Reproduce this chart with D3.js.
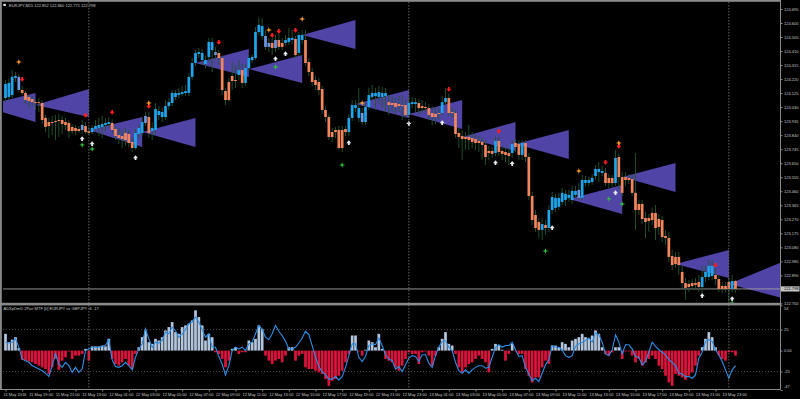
<!DOCTYPE html>
<html><head><meta charset="utf-8">
<script src="https://cdn.jsdelivr.net/npm/d3@7"></script>
<style>
html,body{margin:0;padding:0;background:#000;}
svg{display:block;}
text{font-family:"Liberation Sans",Arial,sans-serif;}
</style></head><body>
<svg id="chart" width="800" height="399"></svg>
<script>
// ---------------- DATA ----------------
const symbolTitle = "EURJPY,M15  122.852 122.860 122.771 122.798";
const indicatorTitle = "ADXpDmD 2Pair MTF [0]  EURJPY vs GBPJPY   -6 -17";

const open = [124.092,124.099,124.112,124.228,124.235,124.146,124.126,124.099,124.085,124.064,
124.064,124.058,123.957,123.929,123.929,123.936,123.943,123.943,123.929,123.923,
123.896,123.889,123.882,123.875,123.902,123.868,123.861,123.882,123.889,123.896,
123.909,123.916,123.923,123.882,123.841,123.834,123.855,123.848,123.794,123.753,
123.848,123.855,123.923,123.963,123.868,123.875,123.977,123.963,123.963,124.037,
124.058,124.099,124.112,124.119,124.126,124.126,124.235,124.329,124.390,124.349,
124.322,124.370,124.417,124.383,124.397,124.363,124.139,124.200,124.241,124.214,
124.248,124.282,124.194,124.295,124.349,124.363,124.539,124.512,124.512,124.465,
124.465,124.431,124.485,124.465,124.465,124.471,124.485,124.492,124.397,124.485,
124.485,124.336,124.268,124.214,124.200,124.153,124.011,123.963,123.861,123.875,
123.875,123.875,123.882,123.861,123.957,124.024,123.957,123.990,123.929,124.031,
124.099,124.105,124.099,124.099,124.105,124.064,124.058,124.058,124.051,124.044,
124.044,123.977,124.051,124.051,124.058,124.037,124.031,124.024,123.990,123.984,
123.990,123.990,124.064,124.092,123.997,123.990,123.855,123.834,123.828,123.828,
123.821,123.814,123.801,123.794,123.774,123.733,123.733,123.719,123.801,123.733,
123.726,123.719,123.719,123.787,123.780,123.706,123.787,123.692,123.428,123.299,
123.252,123.198,123.231,123.211,123.333,123.347,123.354,123.388,123.401,123.415,
123.401,123.435,123.469,123.415,123.516,123.516,123.523,123.563,123.590,123.584,
123.584,123.550,123.550,123.516,123.692,123.556,123.556,123.550,123.543,123.449,
123.374,123.374,123.279,123.279,123.313,123.313,123.272,123.265,123.157,123.143,
123.021,123.015,123.015,122.913,122.838,122.832,122.838,122.838,122.845,122.811,
122.879,122.879,122.886,122.893,122.865,122.818,122.818,122.845,122.798,122.852];

const close = [124.187,124.194,124.235,124.241,124.146,124.126,124.078,124.071,124.064,124.058,
124.058,123.943,123.896,123.902,123.923,123.929,123.936,123.916,123.909,123.868,
123.868,123.868,123.868,123.909,123.861,123.855,123.889,123.902,123.909,123.916,
123.923,123.929,123.875,123.834,123.821,123.814,123.807,123.787,123.753,123.855,
123.889,123.929,123.970,123.855,123.889,124.017,124.004,123.997,124.037,124.064,
124.126,124.126,124.126,124.132,124.139,124.235,124.329,124.397,124.403,124.397,
124.349,124.471,124.471,124.403,124.363,124.146,124.078,124.078,124.207,124.207,
124.282,124.194,124.295,124.363,124.370,124.539,124.587,124.580,124.438,124.438,
124.431,124.485,124.438,124.438,124.485,124.499,124.499,124.383,124.519,124.519,
124.329,124.268,124.200,124.180,124.146,124.011,123.963,123.828,123.828,123.861,
123.753,123.753,123.861,123.957,124.044,124.044,124.024,123.929,124.031,124.112,
124.126,124.126,124.132,124.126,124.126,124.044,124.044,124.031,124.037,124.037,
123.977,124.058,124.064,124.064,124.024,124.024,124.024,123.977,123.963,123.963,
123.984,124.064,124.092,123.990,123.990,123.848,123.828,123.814,123.814,123.807,
123.794,123.787,123.787,123.774,123.692,123.719,123.713,123.801,123.726,123.713,
123.706,123.699,123.780,123.760,123.706,123.787,123.692,123.428,123.265,123.211,
123.198,123.238,123.211,123.333,123.421,123.415,123.415,123.449,123.442,123.435,
123.462,123.462,123.415,123.536,123.536,123.536,123.550,123.611,123.611,123.597,
123.516,123.516,123.516,123.686,123.556,123.449,123.536,123.536,123.449,123.333,
123.333,123.272,123.252,123.258,123.265,123.211,123.218,123.150,123.143,123.015,
122.960,122.967,122.960,122.838,122.805,122.811,122.818,122.825,122.811,122.879,
122.913,122.954,122.954,122.865,122.798,122.798,122.798,122.798,122.852,122.798];

const high = [124.214,124.221,124.282,124.268,124.255,124.173,124.139,124.112,124.105,124.085,
124.092,124.078,123.977,123.957,123.970,123.977,123.984,123.970,123.957,123.943,
123.916,123.909,123.902,123.943,123.929,123.896,123.909,123.943,123.957,123.970,
123.957,123.963,123.950,123.902,123.889,123.875,123.889,123.875,123.821,123.882,
123.909,123.957,123.997,123.997,123.929,124.058,124.037,124.024,124.078,124.092,
124.146,124.146,124.160,124.173,124.180,124.262,124.363,124.417,124.431,124.424,
124.376,124.499,124.499,124.438,124.417,124.383,124.160,124.228,124.336,124.316,
124.349,124.322,124.322,124.383,124.390,124.573,124.641,124.634,124.553,124.499,
124.499,124.519,124.532,124.499,124.519,124.566,124.553,124.512,124.539,124.553,
124.553,124.363,124.295,124.241,124.228,124.173,124.037,123.984,123.889,123.896,
123.902,123.902,123.902,123.984,124.078,124.078,124.160,124.024,124.058,124.160,
124.180,124.160,124.173,124.166,124.160,124.112,124.105,124.092,124.105,124.112,
124.078,124.099,124.099,124.092,124.085,124.078,124.064,124.051,124.037,124.024,
124.024,124.105,124.160,124.119,124.024,124.011,123.889,123.875,123.861,123.909,
123.861,123.841,123.834,123.821,123.807,123.767,123.760,123.828,123.828,123.767,
123.760,123.753,123.807,123.814,123.807,123.807,123.807,123.719,123.455,123.333,
123.279,123.279,123.265,123.367,123.455,123.442,123.449,123.482,123.469,123.469,
123.496,123.496,123.516,123.570,123.563,123.556,123.577,123.638,123.658,123.631,
123.618,123.577,123.570,123.740,123.719,123.590,123.590,123.577,123.570,123.719,
123.401,123.401,123.320,123.306,123.347,123.367,123.306,123.292,123.198,123.184,
123.062,123.048,123.048,122.954,122.872,122.859,122.865,122.872,122.893,122.954,
122.954,122.994,122.994,122.940,122.893,122.845,122.845,122.872,122.893,122.860];

const low = [124.064,124.078,124.092,124.200,124.132,124.112,124.051,124.024,124.037,124.011,
123.997,123.916,123.861,123.821,123.841,123.807,123.828,123.848,123.875,123.821,
123.848,123.841,123.855,123.848,123.848,123.841,123.848,123.868,123.834,123.821,
123.861,123.889,123.848,123.807,123.780,123.753,123.767,123.760,123.726,123.740,
123.821,123.834,123.902,123.821,123.807,123.841,123.943,123.929,123.943,124.011,
124.037,124.078,124.092,124.105,124.105,124.105,124.214,124.309,124.363,124.316,
124.295,124.336,124.268,124.349,124.316,124.112,124.044,124.064,124.146,124.160,
124.214,124.160,124.173,124.268,124.329,124.349,124.519,124.485,124.417,124.403,
124.383,124.403,124.417,124.417,124.444,124.451,124.458,124.363,124.376,124.458,
124.309,124.241,124.173,124.146,124.112,123.984,123.929,123.807,123.794,123.821,
123.740,123.726,123.834,123.834,123.936,123.997,123.929,123.909,123.909,124.011,
124.078,124.011,124.051,124.024,123.997,123.977,123.997,123.984,123.997,123.943,
123.957,123.957,124.024,123.997,123.977,123.990,123.997,123.943,123.909,123.916,
123.943,123.977,124.051,123.970,123.957,123.821,123.753,123.672,123.740,123.740,
123.753,123.740,123.726,123.672,123.638,123.672,123.686,123.699,123.699,123.672,
123.658,123.638,123.686,123.726,123.672,123.672,123.658,123.401,123.231,123.184,
123.143,123.130,123.164,123.184,123.306,123.320,123.333,123.367,123.360,123.388,
123.374,123.415,123.401,123.401,123.496,123.496,123.503,123.536,123.523,123.563,
123.496,123.482,123.489,123.496,123.469,123.428,123.496,123.509,123.428,123.198,
123.299,123.238,123.143,123.184,123.231,123.130,123.164,123.116,123.096,122.981,
122.926,122.940,122.893,122.791,122.723,122.777,122.791,122.791,122.777,122.757,
122.845,122.859,122.859,122.825,122.777,122.771,122.777,122.710,122.777,122.771];

// bars drawn in the lighter "weak" colour
const weakBars = [4, 23, 42, 63, 78, 79, 81, 107, 172];

// H4 projection triangles (start bar of each H4 block)
const h4Bars = 16;
const triStart = [-7, 9, 25, 41, 57, 73, 89, 105, 121, 137, 153, 169, 185, 201, 217];
const triMid  = [124.038,124.045,123.875,123.862,124.329,124.288,124.519,124.051,123.984,123.828,123.780,123.408,123.557,122.967,122.832];
const triHigh = [124.126,124.153,123.963,123.956,124.424,124.383,124.620,124.146,124.078,123.929,123.875,123.502,123.652,123.062,122.981];
const triLow  = [123.929,123.963,123.760,123.760,124.234,124.194,124.424,123.956,123.882,123.733,123.679,123.306,123.455,122.872,122.737];

// signal markers [bar, price]
const sellArrows = [[5,124.214],[24,123.970],[32,123.990],[43,124.031],[64,124.465],[80,124.512],[82,124.539],[87,124.546],[133,124.146],[148,123.861],[180,123.652],[184,123.760],[213,122.954]];
const buyArrows = [[23,123.821],[26,123.787],[39,123.692],[81,124.363],[84,124.397],[103,123.794],[121,123.923],[131,123.929],[147,123.658],[152,123.652],[164,123.218],[183,123.455],[209,122.757],[218,122.737]];
const orangeStars = [[4,124.336],[43,124.058],[79,124.553],[89,124.627],[107,124.058],[172,123.597],[184,123.787]];
const greenStars = [[23,123.774],[26,123.746],[81,124.302],[101,123.638],[162,123.055],[181,123.408],[185,123.374],[218,122.703]];

// indicator window
const histValues = [20,10,13,16,3,-11,-12,-13,-14,-16,-18,-20,-22,-28,-20,-10,-23,-12,-8,-1,
-10,-6,-6,-4,2,-12,5,5,5,6,5,14,-10,-16,-18,-14,-10,-18,-22,-4,
4,16,24,10,8,14,12,16,24,28,34,22,20,28,30,32,36,48,40,30,
12,20,16,-2,-4,-10,-20,-12,2,4,-4,-2,-2,12,10,14,30,26,-6,-12,
-16,-12,-10,-14,-6,4,4,-12,-6,-4,-20,-22,-22,-24,-26,-28,-34,-42,-36,-34,
-30,-24,-14,-4,18,18,-1,-6,1,12,10,4,20,2,-10,-12,-14,-20,-24,-18,
-10,-2,-4,-4,-16,-2,-1,-6,-18,-6,4,14,22,8,6,-4,-20,-26,-20,-16,
-14,-10,-6,-10,-14,-26,2,8,6,1,-12,-4,8,-1,-4,-4,-22,-30,-38,-32,
-32,-20,-12,-16,6,6,4,10,8,4,12,14,16,20,16,14,18,24,20,4,
-4,-6,-2,4,4,-10,-1,-1,-6,-14,-10,-18,-14,-10,-6,-10,-18,-22,-30,-38,
-42,-28,-30,-32,-35,-30,-26,-18,-6,4,14,22,16,4,-6,-10,-12,-2,-2,-6];
const lineValues = [10,9,10,14,4,-10,-12,-14,-18,-20,-22,-24,-27,-31,-18,-4,-16,-20,-14,-18,
-26,-20,-26,-22,0,2,4,4,4,5,6,13,-11,-19,-20,-18,-14,-18,-23,-8,
2,8,26,14,4,10,9,12,22,20,28,24,16,20,25,32,34,40,34,25,
16,20,4,4,-7,-16,-29,-18,0,4,2,4,0,8,10,20,30,25,16,13,
20,30,23,18,11,2,2,4,9,15,23,19,6,-8,-19,-25,-29,-34,-34,-31,
-35,-31,-20,-6,8,8,-8,-13,-7,6,8,7,15,6,-5,-10,-12,-22,-19,-25,
-17,-9,-6,-7,-13,-5,-5,-15,-20,-6,4,11,12,4,0,-14,-24,-27,-23,-27,
-23,-20,-18,-18,-21,-20,-8,4,7,4,6,6,10,1,-7,-6,-20,-28,-36,-33,
-37,-27,-17,-11,6,4,4,1,-6,-8,-6,5,8,10,12,15,10,21,19,10,
-4,-6,1,19,10,-4,7,7,2,-7,-8,-17,-13,-2,10,5,1,-2,-5,-11,
-14,-18,-27,-28,-31,-31,-33,-29,-9,-2,11,13,11,1,-5,-13,-23,-33,-23,-18];
const indTicks = [54, 25, 0, -25, -47];
const indLevels = [25, -25];

// axes
const priceTicks = [124.695,124.600,124.505,124.410,124.315,124.220,124.125,124.030,123.935,123.840,123.745,
123.650,123.555,123.460,123.365,123.270,123.175,123.080,122.985,122.890,122.700];
const timeLabels = ["11 May 2016","11 May 19:00","11 May 21:00","11 May 23:00",
"12 May 01:00","12 May 03:00","12 May 05:00","12 May 07:00","12 May 09:00","12 May 11:00",
"12 May 13:00","12 May 15:00","12 May 17:00","12 May 19:00","12 May 21:00","12 May 23:00",
"13 May 01:00","13 May 03:00","13 May 05:00","13 May 07:00","13 May 09:00","13 May 11:00",
"13 May 13:00","13 May 15:00","13 May 17:00","13 May 19:00","13 May 21:00","13 May 23:00"];
const timeLabelBars = [0,5,13,21,29,37,45,53,61,69,77,85,93,101,109,117,125,133,141,149,157,165,173,181,189,197,205,213];
const daySeparators = [25, 121, 217];

// ---------------- DRAWING ----------------
const svg = d3.select('#chart');
const plotL = 3, plotR = 780.5, mainT = 2, mainB = 302.8, indT = 305.5, indB = 389.5;
const nBars = close.length;
const x = d3.scaleLinear().domain([0, nBars - 1]).range([5.5, 735.5]);
const y = d3.scaleLinear().domain([122.700, 124.695]).range([303.4, 9.0]);
const yi = d3.scaleLinear().domain([-47, 54]).range([390, 305.3]);
const bw = 2.7;
const txtCol = '#c8c8c8', frameCol = '#8a8a8a';

svg.append('rect').attr('width', 800).attr('height', 399).attr('fill', '#000');

const defs = svg.append('defs');
defs.append('clipPath').attr('id', 'clipMain').append('rect')
  .attr('x', plotL).attr('y', mainT).attr('width', plotR - plotL).attr('height', mainB - mainT);
defs.append('clipPath').attr('id', 'clipInd').append('rect')
  .attr('x', plotL).attr('y', indT).attr('width', plotR - plotL).attr('height', indB - indT);

const mainG = svg.append('g').attr('clip-path', 'url(#clipMain)');
const indG = svg.append('g').attr('clip-path', 'url(#clipInd)');

// day separators
svg.append('g').selectAll('line').data(daySeparators).join('line')
  .attr('x1', d => x(d)).attr('x2', d => x(d)).attr('y1', mainT).attr('y2', indB)
  .attr('stroke', '#7c7c7c').attr('stroke-width', 0.8).attr('stroke-dasharray', '1.5,1.5');

// triangles
mainG.append('g').selectAll('polygon').data(triStart).join('polygon')
  .attr('points', (s, k) => [[x(s), y(triMid[k])], [x(s + h4Bars), y(triHigh[k])], [x(s + h4Bars), y(triLow[k])]].map(p => p.join(',')).join(' '))
  .attr('fill', '#5044a6');

// current price line
mainG.append('line').attr('x1', plotL).attr('x2', plotR)
  .attr('y1', y(close[nBars - 1])).attr('y2', y(close[nBars - 1]))
  .attr('stroke', '#a0a0a0').attr('stroke-width', 0.9);

// candles
const idx = d3.range(nBars);
const weakSet = new Set(weakBars);
const colorOf = i => weakSet.has(i) ? '#6d9ae6' : (close[i] >= open[i] ? '#1ea6ec' : '#f3865c');
mainG.append('g').selectAll('line').data(idx).join('line')
  .attr('x1', i => x(i)).attr('x2', i => x(i)).attr('y1', i => y(high[i])).attr('y2', i => y(low[i]))
  .attr('stroke', '#22562f').attr('stroke-width', 0.9);
mainG.append('g').selectAll('rect').data(idx).join('rect')
  .attr('x', i => x(i) - bw / 2).attr('width', bw)
  .attr('y', i => y(Math.max(open[i], close[i])))
  .attr('height', i => Math.max(1, Math.abs(y(open[i]) - y(close[i]))))
  .attr('fill', colorOf);

// markers
const downArrow = (cx, cy) => `M${cx - 0.9},${cy - 3}h1.8v1.8h1.6l-2.5,3l-2.5,-3h1.6z`;
const upArrow = (cx, cy) => `M${cx - 0.9},${cy + 3}h1.8v-1.8h1.6l-2.5,-3l-2.5,3h1.6z`;
const star = (cx, cy) => `M${cx},${cy - 3}L${cx + 0.7},${cy - 0.7}L${cx + 3},${cy}L${cx + 0.7},${cy + 0.7}L${cx},${cy + 3}L${cx - 0.7},${cy + 0.7}L${cx - 3},${cy}L${cx - 0.7},${cy - 0.7}Z`;
const mk = mainG.append('g');
mk.selectAll('path.s').data(sellArrows).join('path').attr('class', 's')
  .attr('d', d => downArrow(x(d[0]), y(d[1]))).attr('fill', '#ff1c1c');
mk.selectAll('path.b').data(buyArrows).join('path').attr('class', 'b')
  .attr('d', d => upArrow(x(d[0]), y(d[1]))).attr('fill', '#e4ecf2');
mk.selectAll('path.o').data(orangeStars).join('path').attr('class', 'o')
  .attr('d', d => star(x(d[0]), y(d[1]))).attr('fill', '#ffa01e');
mk.selectAll('path.g').data(greenStars).join('path').attr('class', 'g')
  .attr('d', d => star(x(d[0]), y(d[1]))).attr('fill', '#2fc23a');

// indicator
indG.append('g').selectAll('line').data(indLevels).join('line')
  .attr('x1', plotL).attr('x2', plotR).attr('y1', d => yi(d)).attr('y2', d => yi(d))
  .attr('stroke', '#6a6a6a').attr('stroke-width', 0.7).attr('stroke-dasharray', '1,2');
indG.append('g').selectAll('rect').data(histValues).join('rect')
  .attr('x', (d, i) => x(i) - bw / 2).attr('width', bw)
  .attr('y', d => Math.min(yi(0), yi(d)))
  .attr('height', d => Math.max(0.6, Math.abs(yi(d) - yi(0))))
  .attr('fill', d => d >= 0 ? '#b4c6de' : '#dc143c');
indG.append('path').datum(lineValues)
  .attr('d', d3.line().x((d, i) => x(i)).y(d => yi(d)))
  .attr('fill', 'none').attr('stroke', '#2b8fe6').attr('stroke-width', 1.1);

// frame
svg.append('rect').attr('x', 0).attr('y', 0).attr('width', plotR).attr('height', 1.8).attr('fill', frameCol);
svg.append('rect').attr('x', 0).attr('y', 0).attr('width', 1.8).attr('height', indB).attr('fill', frameCol);
svg.append('rect').attr('x', 0).attr('y', 302.8).attr('width', plotR).attr('height', 2.6).attr('fill', frameCol);
svg.append('line').attr('x1', 0).attr('x2', plotR).attr('y1', indB).attr('y2', indB).attr('stroke', frameCol).attr('stroke-width', 1);
svg.append('line').attr('x1', plotR).attr('x2', plotR).attr('y1', 0).attr('y2', indB).attr('stroke', frameCol).attr('stroke-width', 1);

// price axis
const pAx = svg.append('g').attr('transform', `translate(${plotR},0)`)
  .call(d3.axisRight(y).tickValues(priceTicks).tickFormat(d3.format('.3f')).tickSize(2).tickPadding(1.5));
pAx.select('.domain').remove();
pAx.selectAll('line').attr('stroke', frameCol);
pAx.selectAll('text').attr('fill', txtCol).style('font-size', '4px').style('font-family', '"Liberation Sans",Arial,sans-serif');

// current price box
const cp = close[nBars - 1];
svg.append('rect').attr('x', plotR + 0.5).attr('y', y(cp) - 2.6).attr('width', 18.5).attr('height', 5.2).attr('fill', '#c4c4c4');
svg.append('text').attr('x', plotR + 3.5).attr('y', y(cp)).attr('dy', '0.35em')
  .attr('fill', '#000').style('font-size', '4px').text(d3.format('.3f')(cp));

// indicator axis
const iAx = svg.append('g').attr('transform', `translate(${plotR},0)`)
  .call(d3.axisRight(yi).tickValues(indTicks).tickFormat(v => v === 0 ? '0.00' : String(v)).tickSize(2).tickPadding(1.5));
iAx.select('.domain').remove();
iAx.selectAll('line').attr('stroke', frameCol);
iAx.selectAll('text').attr('fill', txtCol).style('font-size', '4px').style('font-family', '"Liberation Sans",Arial,sans-serif')
  .attr('y', v => v === 54 ? 3.2 : (v === -47 ? -3.5 : 0));

// time axis
const tAx = svg.append('g').attr('transform', `translate(0,${indB})`)
  .call(d3.axisBottom(x).tickValues(timeLabelBars).tickFormat((d, k) => timeLabels[k]).tickSize(2).tickPadding(1.5));
tAx.select('.domain').remove();
tAx.selectAll('line').attr('stroke', frameCol);
tAx.selectAll('text').attr('fill', txtCol).style('font-size', '4px').style('font-family', '"Liberation Sans",Arial,sans-serif')
  .attr('text-anchor', 'start').attr('x', (d, k) => k === 0 ? -2.5 : 6.5);

// titles
svg.append('rect').attr('x', 3.3).attr('y', 3.8).attr('width', 2.6).attr('height', 2.2).attr('fill', '#d8d8d8');
svg.append('text').attr('x', 9).attr('y', 6.5).attr('fill', txtCol).style('font-size', '4px').text(symbolTitle);
svg.append('text').attr('x', 3.5).attr('y', 309.8).attr('fill', txtCol).style('font-size', '4px').text(indicatorTitle);
</script>
</body></html>
